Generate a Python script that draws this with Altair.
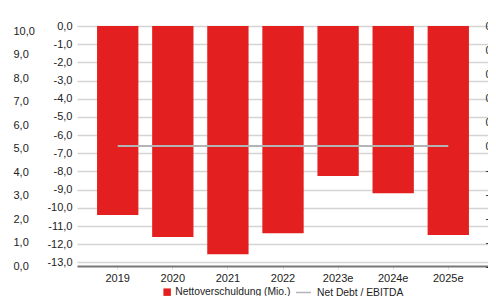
import altair as alt
import pandas as pd

years = ["2019", "2020", "2021", "2022", "2023e", "2024e", "2025e"]
net_debt = [-10.4, -11.6, -12.55, -11.4, -8.25, -9.2, -11.5]
net_debt_ebitda = [0.0, 0.0, 0.0, 0.0, 0.0, 0.0, 0.0]

debt_ticks = [0, -1, -2, -3, -4, -5, -6, -7, -8, -9, -10, -11, -12, -13]
ratio_ticks = [0.5, 0.4, 0.3, 0.2, 0.1, 0.0, -0.1, -0.2, -0.3, -0.4, -0.5]
outer_ticks = [0, 1, 2, 3, 4, 5, 6, 7, 8, 9, 10]

bar_name = "Nettoverschuldung (Mio.)"
line_name = "Net Debt / EBITDA"

df = pd.DataFrame({
    "Jahr": years,
    "Nettoverschuldung": net_debt,
    "Ratio": net_debt_ebitda,
    "s1": [bar_name] * len(years),
    "s2": [line_name] * len(years),
})
outer_df = pd.DataFrame({"v": outer_ticks})

FONT = "Liberation Sans"
lab = "replace(replace(format(datum.value, '.1f'), '.', ','), '\u2212', '-')"

x_enc = alt.X(
    "Jahr:N",
    sort=years,
    title=None,
    scale=alt.Scale(paddingInner=0.25, paddingOuter=0.364),
    axis=alt.Axis(
        labelAngle=0, labelFontSize=11, labelColor="#222", labelFont=FONT,
        domainColor="#777", domainWidth=2, tickColor="#ddd", tickSize=3,
        tickWidth=1, labelPadding=3, grid=False,
    ),
)

bars = alt.Chart(df).mark_bar(color="#e41f20").encode(
    x=x_enc,
    y=alt.Y(
        "Nettoverschuldung:Q",
        title=None,
        scale=alt.Scale(domain=[-13.2, 0], nice=False, zero=False),
        axis=alt.Axis(
            orient="left", values=debt_ticks, labelExpr=lab, labelFontSize=11,
            labelColor="#222", labelFont=FONT, domain=False, ticks=False,
            labelPadding=5, grid=True, gridColor="#d4d4d4", gridWidth=1.5,
        ),
    ),
    color=alt.Color(
        "s1:N",
        scale=alt.Scale(range=["#e41f20"]),
        legend=alt.Legend(
            title=None, orient="none", legendX=85, legendY=261,
            symbolType="square", symbolSize=56, symbolStrokeWidth=0,
            labelFontSize=10.3, labelColor="#222", labelFont=FONT, labelOffset=3,
            padding=0,
        ),
    ),
)

line = alt.Chart(df).mark_line(strokeWidth=2).encode(
    x=alt.X("Jahr:N", sort=years),
    y=alt.Y(
        "Ratio:Q",
        title=None,
        scale=alt.Scale(domain=[-0.5, 0.5], nice=False, zero=False),
        axis=alt.Axis(
            orient="right", values=ratio_ticks, labelExpr=lab, labelFontSize=11,
            labelColor="#222", labelFont=FONT, domain=False, ticks=False,
            labelPadding=-4, grid=False,
        ),
    ),
    stroke=alt.Stroke(
        "s2:N",
        scale=alt.Scale(range=["#b4b4b4"]),
        legend=alt.Legend(
            title=None, orient="none", legendX=218, legendY=258,
            symbolType="stroke", symbolSize=225, symbolStrokeWidth=1.5,
            labelFontSize=10.3, labelColor="#222", labelFont=FONT, labelOffset=5,
            padding=0,
        ),
    ),
)

outer = alt.Chart(outer_df).mark_point(opacity=0).encode(
    y=alt.Y(
        "v:Q",
        title=None,
        scale=alt.Scale(domain=[0, 10.213], nice=False, zero=False),
        axis=alt.Axis(
            orient="left", offset=64, values=outer_ticks, labelExpr=lab,
            labelAlign="left", labelFontSize=11, labelColor="#222",
            labelFont=FONT, domain=False, ticks=False, labelPadding=0, grid=False,
        ),
    ),
)

chart = (
    alt.layer(bars, line, outer)
    .resolve_scale(y="independent", color="independent")
    .properties(
        width=412,
        height=240,
        autosize=alt.AutoSizeParams(type="none"),
        padding={"left": 69, "top": 18, "right": -1, "bottom": 30},
        background="white",
    )
    .configure_view(stroke=None)
)

chart.save("out.html", embed_options={"renderer": "svg", "actions": False})
